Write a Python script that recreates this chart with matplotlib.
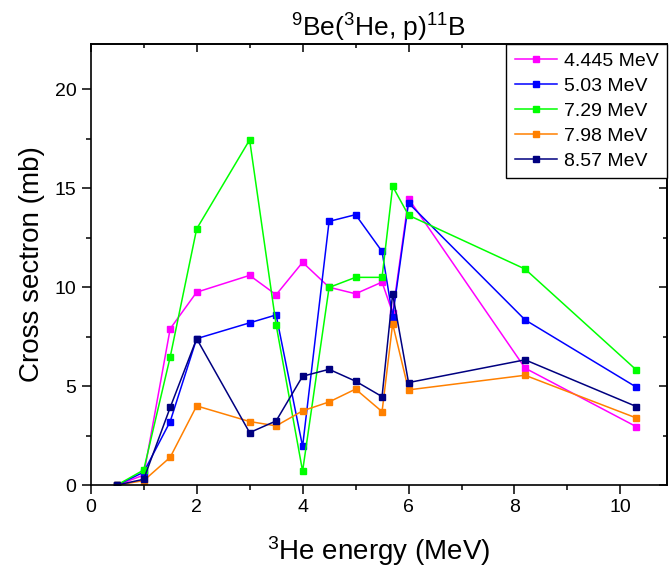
import matplotlib
matplotlib.use("Agg")
import matplotlib.pyplot as plt
from matplotlib.ticker import MultipleLocator

plt.rcParams['font.family'] = ['Liberation Sans', 'DejaVu Sans']
plt.rcParams['mathtext.fontset'] = 'custom'
plt.rcParams['mathtext.rm'] = 'Liberation Sans'
plt.rcParams['mathtext.it'] = 'Liberation Sans'

energy = [0.5, 1.0, 1.5, 2.0, 3.0, 3.5, 4.0, 4.5, 5.0, 5.5, 5.7, 6.0, 8.2, 10.3]

xs_4445 = [0.0, 0.5, 7.9, 9.75, 10.6, 9.62, 11.26, 10.0, 9.67, 10.26, 8.7, 14.48, 5.91, 2.95]
xs_503 = [0.0, 0.65, 3.21, 7.4, 8.2, 8.6, 1.95, 13.33, 13.67, 11.81, 8.52, 14.26, 8.35, 4.95]
xs_729 = [0.0, 0.76, 6.47, 12.95, 17.45, 8.1, 0.7, 9.99, 10.5, 10.5, 15.1, 13.64, 10.92, 5.82]
xs_798 = [0.0, 0.22, 1.40, 4.0, 3.21, 2.99, 3.75, 4.2, 4.85, 3.71, 8.15, 4.81, 5.55, 3.39]
xs_857 = [0.0, 0.29, 3.92, 7.4, 2.65, 3.24, 5.5, 5.85, 5.25, 4.47, 9.67, 5.18, 6.33, 3.97]

series_labels = ['4.445 MeV', '5.03 MeV', '7.29 MeV', '7.98 MeV', '8.57 MeV']
series_colors = ['#FF00FF', '#0000FF', '#00FF00', '#FF8000', '#000080']
series_values = [xs_4445, xs_503, xs_729, xs_798, xs_857]

fig = plt.figure(figsize=(6.72, 5.69), dpi=100)
ax = fig.add_axes([0.135, 0.1476, 0.8576, 0.7751])

for vals, col, lab in zip(series_values, series_colors, series_labels):
    ax.plot(energy, vals, color=col, lw=1.1, marker='s', ms=4.5,
            mec=col, mfc=col, label=lab)

ax.set_xlim(0, 10.88)
ax.set_ylim(0, 22.3)
ax.xaxis.set_major_locator(MultipleLocator(2))
ax.xaxis.set_minor_locator(MultipleLocator(1))
ax.yaxis.set_major_locator(MultipleLocator(5))
ax.yaxis.set_minor_locator(MultipleLocator(2.5))

for sp in ax.spines.values():
    sp.set_linewidth(1.2)

ax.tick_params(axis='both', which='major', direction='out', length=6.3, width=1.1,
               labelsize=14, pad=4)
ax.tick_params(axis='both', which='minor', direction='out', length=3.4, width=1.1)
ax.tick_params(axis='x', which='both', top=False)
ax.tick_params(axis='y', which='both', right=False)
secx = ax.secondary_xaxis('top')
secx.xaxis.set_major_locator(MultipleLocator(2))
secx.xaxis.set_minor_locator(MultipleLocator(1))
secx.tick_params(which='major', direction='in', length=6, width=1.1, labeltop=False)
secx.tick_params(which='minor', direction='in', length=3, width=1.1)
secx.spines['top'].set_linewidth(1.2)
secy = ax.secondary_yaxis('right')
secy.yaxis.set_major_locator(MultipleLocator(5))
secy.yaxis.set_minor_locator(MultipleLocator(2.5))
secy.tick_params(which='major', direction='in', length=6, width=1.1, labelright=False)
secy.tick_params(which='minor', direction='in', length=3, width=1.1)
secy.spines['right'].set_linewidth(1.2)

ax.set_xlabel(r'$\mathregular{^3}$He energy (MeV)', fontsize=20, labelpad=13)
ax.set_ylabel('Cross sectron (mb)', fontsize=20, labelpad=7)
ax.set_title(r'$\mathregular{^9}$Be($\mathregular{^3}$He, p)$\mathregular{^{11}}$B',
             fontsize=19, pad=1)

leg = ax.legend(loc='upper right', fontsize=14, frameon=True, fancybox=False,
                edgecolor='black', framealpha=1, borderaxespad=0,
                handlelength=2.2, handletextpad=0.35, labelspacing=0.38,
                borderpad=0.42)
leg.get_frame().set_linewidth(1.0)

fig.savefig('out.png', dpi=100)
